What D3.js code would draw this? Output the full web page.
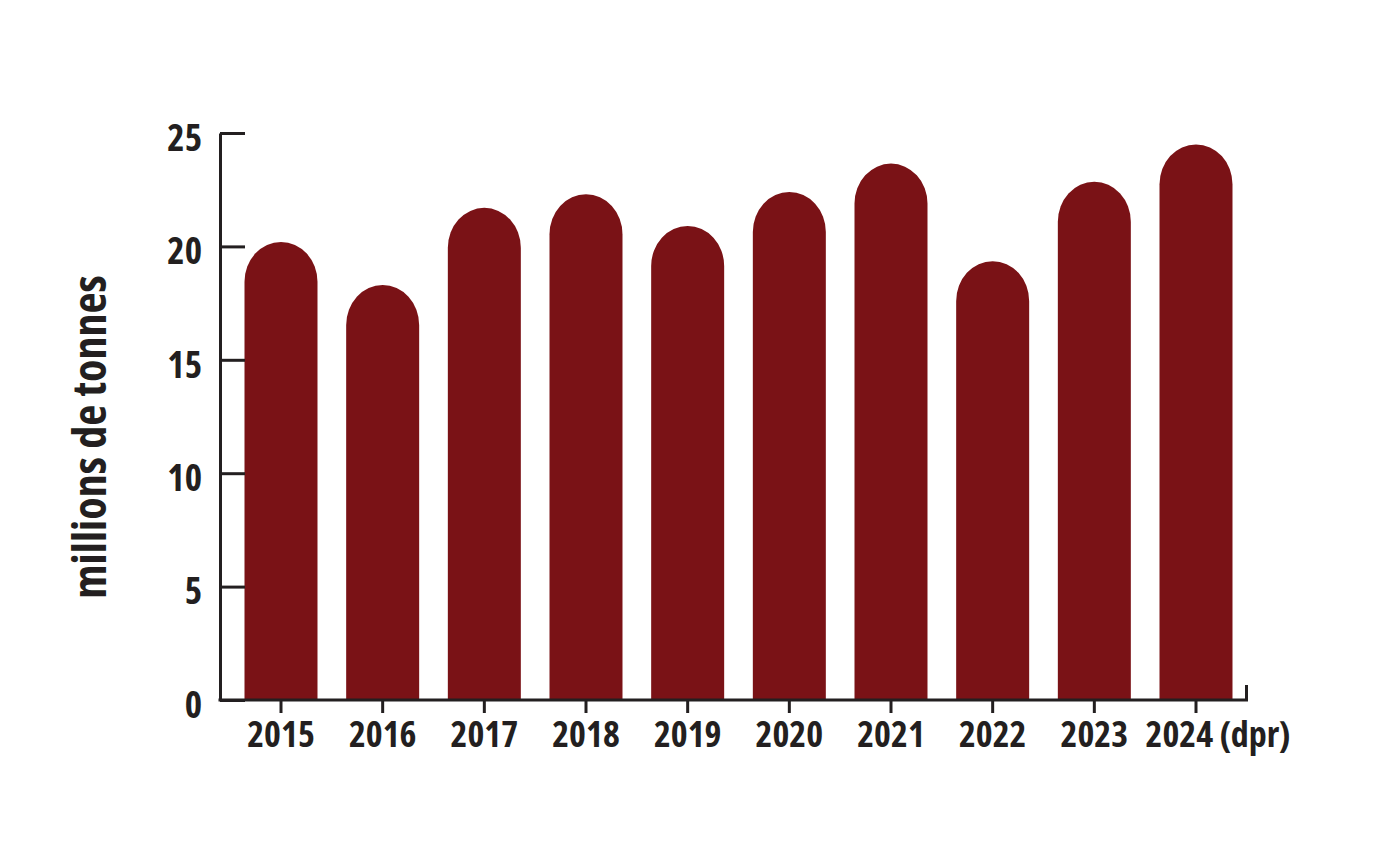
<!DOCTYPE html>
<html>
<head>
<meta charset="utf-8">
<script src="https://cdn.jsdelivr.net/npm/d3@7"></script>
<style>
  body { margin: 0; background: #fff; }
  text { font-family: "Open Sans", "Roboto", sans-serif; font-weight: bold; fill: #231f20; }
</style>
</head>
<body>
<svg id="chart" width="1377" height="861"></svg>
<script>
// production, millions de tonnes
let years = ['2015', '2016', '2017', '2018', '2019', '2020', '2021', '2022', '2023', '2024']
let yearLabels = ['2015', '2016', '2017', '2018', '2019', '2020', '2021', '2022', '2023', '2024 (dpr)']
let values = [20.2, 18.3, 21.7, 22.3, 20.9, 22.4, 23.65, 19.35, 22.85, 24.5]
let yTicks = [0, 5, 10, 15, 20, 25]

let svg = d3.select('#chart')

let x = d3.scaleBand()
	.domain(years)
	.range([220, 1257])
	.paddingInner(0.282)
	.paddingOuter(0.241)

let y = d3.scaleLinear()
	.domain([0, 25])
	.range([700, 133])

let barColor = '#7a1216'
let capH = 40

svg.selectAll('.bar')
	.data(values)
	.enter()
	.append('path')
	.attr('class', 'bar')
	.attr('fill', barColor)
	.attr('d', function(d, i){
		let x0 = x(years[i])
		let w = x.bandwidth()
		let top = y(d)
		let r = w / 2
		return 'M' + x0 + ',' + y(0) +
			'L' + x0 + ',' + (top + capH) +
			'A' + r + ',' + capH + ' 0 0 1 ' + (x0 + w) + ',' + (top + capH) +
			'L' + (x0 + w) + ',' + y(0) + 'Z'
	})

// y axis, ticks pointing inward
let yAxis = svg.append('g')
	.attr('transform', 'translate(220,0)')
	.call(d3.axisLeft(y).tickValues(yTicks).tickSize(-25).tickSizeOuter(0).tickPadding(18))

yAxis.select('.domain').attr('stroke', '#231f20').attr('stroke-width', 3)
yAxis.selectAll('.tick line').attr('stroke', '#231f20').attr('stroke-width', 3)
yAxis.selectAll('.tick text')
	.attr('font-size', 37)
	.attr('dy', '0.47em')
	.style('font-stretch', '80%')

// x axis
let xAxis = svg.append('g')
	.attr('transform', 'translate(0,' + y(0) + ')')
	.call(d3.axisBottom(x).tickSize(13).tickSizeOuter(0).tickFormat((d, i) => yearLabels[i]))

xAxis.select('.domain').remove()
xAxis.selectAll('.tick line').attr('stroke', '#231f20').attr('stroke-width', 3)
xAxis.selectAll('.tick text')
	.attr('font-size', 36)
	.attr('dy', null)
	.attr('y', 47)
	.attr('x', (d, i) => i == years.length - 1 ? 22 : 0)
	.style('font-stretch', '80%')

xAxis.append('path')
	.attr('d', 'M218.5,0H1246.5V-15')
	.attr('fill', 'none')
	.attr('stroke', '#231f20')
	.attr('stroke-width', 3)

svg.append('text')
	.attr('transform', 'translate(106,437) rotate(-90)')
	.attr('text-anchor', 'middle')
	.attr('font-size', 46)
	.style('font-stretch', '75%')
	.text('millions de tonnes')
</script>
</body>
</html>
